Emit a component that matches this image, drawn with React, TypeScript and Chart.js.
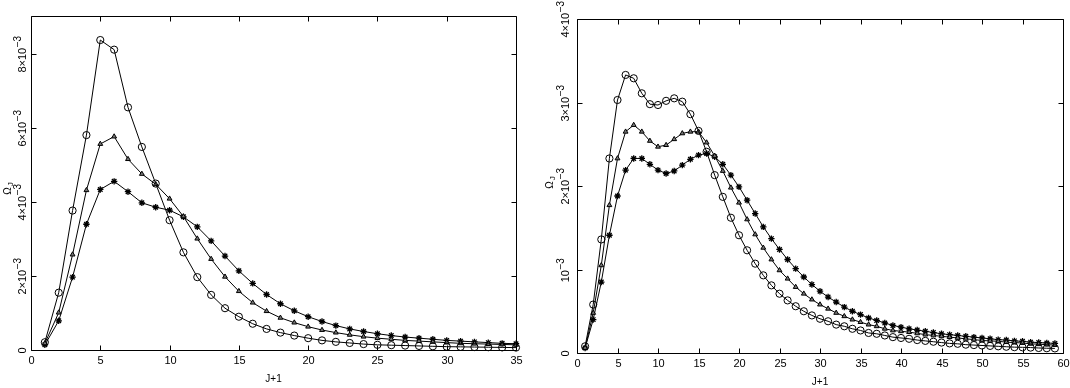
import React, { useEffect, useRef } from "react";
import { Chart, registerables } from "chart.js";

Chart.register(...registerables);

// ---------- LEFT PANEL DATA (Omega_J in units of 1e-3) ----------
const jLeft = [1,2,3,4,5,6,7,8,9,10,11,12,13,14,15,16,17,18,19,20,21,22,23,24,25,26,27,28,29,30,31,32,33,34,35];
const leftCircle = [0.21,1.55,3.77,5.81,8.38,8.12,6.56,5.49,4.50,3.51,2.64,1.97,1.49,1.13,0.90,0.71,0.57,0.47,0.39,0.32,0.26,0.22,0.19,0.16,0.14,0.13,0.12,0.11,0.10,0.09,0.085,0.08,0.075,0.07,0.065];
const leftTriangle = [0.18,1.01,2.58,4.32,5.57,5.77,5.16,4.76,4.48,4.09,3.61,3.01,2.46,1.98,1.59,1.28,1.05,0.87,0.74,0.63,0.54,0.47,0.41,0.36,0.32,0.29,0.26,0.24,0.22,0.20,0.18,0.17,0.16,0.15,0.14];
const leftStar = [0.14,0.79,1.97,3.40,4.34,4.56,4.28,3.98,3.86,3.78,3.60,3.33,2.95,2.54,2.14,1.80,1.50,1.25,1.06,0.90,0.77,0.66,0.57,0.50,0.44,0.39,0.35,0.32,0.29,0.26,0.24,0.22,0.20,0.18,0.17];
const leftXTicks = [0,5,10,15,20,25,30,35];
const leftYTicks = [0,2,4,6,8];
const leftYTickLabels = ["0","2×10^−3","4×10^−3","6×10^−3","8×10^−3"];

// ---------- RIGHT PANEL DATA (Omega_J in units of 1e-3) ----------
const jRight = [1,2,3,4,5,6,7,8,9,10,11,12,13,14,15,16,17,18,19,20,21,22,23,24,25,26,27,28,29,30,31,32,33,34,35,36,37,38,39,40,41,42,43,44,45,46,47,48,49,50,51,52,53,54,55,56,57,58,59];
const rightCircle = [0.08,0.58,1.36,2.33,3.03,3.33,3.29,3.11,2.98,2.97,3.02,3.05,3.01,2.86,2.66,2.41,2.13,1.87,1.62,1.41,1.23,1.07,0.93,0.81,0.71,0.63,0.56,0.50,0.45,0.41,0.38,0.34,0.32,0.29,0.27,0.24,0.23,0.21,0.19,0.18,0.17,0.155,0.145,0.135,0.125,0.115,0.11,0.10,0.095,0.09,0.085,0.08,0.075,0.07,0.068,0.065,0.06,0.057,0.055];
const rightTriangle = [0.06,0.48,1.05,1.77,2.33,2.65,2.73,2.65,2.54,2.47,2.49,2.56,2.63,2.65,2.65,2.52,2.36,2.18,1.98,1.80,1.60,1.42,1.26,1.12,0.99,0.89,0.79,0.71,0.64,0.58,0.53,0.48,0.44,0.40,0.37,0.34,0.32,0.29,0.27,0.26,0.25,0.235,0.22,0.21,0.20,0.19,0.18,0.17,0.16,0.15,0.145,0.14,0.13,0.125,0.12,0.11,0.105,0.10,0.095];
const rightStar = [0.06,0.40,0.85,1.41,1.88,2.19,2.33,2.33,2.26,2.19,2.15,2.18,2.25,2.32,2.37,2.39,2.35,2.26,2.13,1.99,1.83,1.67,1.51,1.37,1.24,1.12,1.01,0.91,0.82,0.74,0.67,0.61,0.55,0.50,0.46,0.42,0.39,0.36,0.33,0.31,0.29,0.275,0.26,0.245,0.23,0.22,0.21,0.20,0.19,0.18,0.17,0.16,0.155,0.145,0.14,0.13,0.125,0.12,0.115];
const rightXTicks = [0,5,10,15,20,25,30,35,40,45,50,55,60];
const rightYTicks = [0,1,2,3,4];
const rightYTickLabels = ["0","10^−3","2×10^−3","3×10^−3","4×10^−3"];

const xTitle = "J+1";
const yTitleMain = "Ω";
const yTitleSub = "J";

const FONT = "'Liberation Sans', Arial, Helvetica, sans-serif";

type PanelSpec = {
  left: number;
  width: number;
  height: number;
  padding: { left: number; right: number; top: number; bottom: number };
  xMax: number;
  yMax: number;
  j: number[];
  circle: number[];
  triangle: number[];
  star: number[];
  xTicks: number[];
  yTicks: number[];
  yTickLabels: string[];
  yLabelX: number;
  yTitleX: number;
  yTitleY: number;
};

const framePlugin = (spec: PanelSpec) => ({
  id: "frame",
  afterDraw(chart: any) {
    const { ctx, chartArea: a, scales } = chart;
    const xs = scales.x;
    const ys = scales.y;
    const L = Math.round(a.left) + 0.5;
    const R = Math.round(a.right) + 0.5;
    const T = Math.round(a.top) + 0.5;
    const B = Math.round(a.bottom) + 0.5;
    ctx.save();
    ctx.strokeStyle = "#000";
    ctx.lineWidth = 1;
    ctx.beginPath();
    ctx.rect(L, T, R - L, B - T);
    ctx.stroke();
    const tl = 5;
    ctx.fillStyle = "#000";
    ctx.font = `11px ${FONT}`;
    ctx.textAlign = "center";
    ctx.textBaseline = "middle";
    spec.xTicks.forEach((v) => {
      const px = Math.round(xs.getPixelForValue(v)) + 0.5;
      ctx.beginPath();
      ctx.moveTo(px, B);
      ctx.lineTo(px, B - tl);
      ctx.moveTo(px, T);
      ctx.lineTo(px, T + tl);
      ctx.stroke();
      ctx.fillText(String(v), px, B + 10);
    });
    spec.yTicks.forEach((v, i) => {
      const py = Math.round(ys.getPixelForValue(v)) + 0.5;
      ctx.beginPath();
      ctx.moveTo(L, py);
      ctx.lineTo(L + tl, py);
      ctx.moveTo(R, py);
      ctx.lineTo(R - tl, py);
      ctx.stroke();
      const parts = spec.yTickLabels[i].split("^");
      const base = parts[0];
      const sup = parts[1] || "";
      ctx.save();
      ctx.translate(a.left - spec.yLabelX, py);
      ctx.rotate(-Math.PI / 2);
      ctx.font = `11px ${FONT}`;
      const wb = ctx.measureText(base).width;
      ctx.font = `10px ${FONT}`;
      const ws = sup ? ctx.measureText(sup).width : 0;
      const start = -(wb + ws) / 2;
      ctx.textAlign = "left";
      ctx.textBaseline = "middle";
      ctx.font = `11px ${FONT}`;
      ctx.fillText(base, start, 0);
      if (sup) {
        ctx.font = `10px ${FONT}`;
        ctx.fillText(sup, start + wb + 0.5, -5);
      }
      ctx.restore();
    });
    ctx.font = `10px ${FONT}`;
    ctx.textAlign = "center";
    ctx.textBaseline = "middle";
    ctx.fillText(xTitle, (a.left + a.right) / 2, B + 29);
    ctx.save();
    ctx.translate(spec.yTitleX, spec.yTitleY);
    ctx.rotate(-Math.PI / 2);
    ctx.font = `10px ${FONT}`;
    const wo = ctx.measureText(yTitleMain).width;
    ctx.textAlign = "left";
    ctx.textBaseline = "middle";
    ctx.fillText(yTitleMain, -wo / 2 - 2, 0);
    ctx.font = `8px ${FONT}`;
    ctx.fillText(yTitleSub, wo / 2 - 1, 3);
    ctx.restore();
    ctx.restore();
  },
});

const mkData = (j: number[], vals: number[]) => j.map((x, i) => ({ x, y: vals[i] }));

function Panel({ spec }: { spec: PanelSpec }) {
  const ref = useRef<HTMLCanvasElement | null>(null);
  useEffect(() => {
    if (!ref.current) return;
    const common = {
      borderColor: "#000",
      borderWidth: 1,
      pointBorderColor: "#000",
      pointBorderWidth: 1,
      tension: 0,
      clip: false as any,
      showLine: true,
    };
    const chart = new Chart(ref.current, {
      type: "line",
      data: {
        datasets: [
          {
            ...common,
            label: "circle",
            data: mkData(spec.j, spec.circle),
            pointStyle: "circle",
            pointRadius: 3.6,
            pointBackgroundColor: "rgba(0,0,0,0)",
          },
          {
            ...common,
            label: "triangle",
            data: mkData(spec.j, spec.triangle),
            pointStyle: "triangle",
            pointRadius: 2.8,
            pointBackgroundColor: "#777",
          },
          {
            ...common,
            label: "star",
            data: mkData(spec.j, spec.star),
            pointStyle: "star",
            pointRadius: 3.2,
            pointBorderWidth: 1.3,
            pointBackgroundColor: "#000",
          },
        ],
      },
      options: {
        responsive: false,
        animation: false,
        events: [],
        layout: { padding: spec.padding },
        plugins: { legend: { display: false }, tooltip: { enabled: false } },
        scales: {
          x: { type: "linear", min: 0, max: spec.xMax, display: false },
          y: { type: "linear", min: 0, max: spec.yMax, display: false },
        },
      },
      plugins: [framePlugin(spec)],
    } as any);
    return () => chart.destroy();
  }, [spec]);
  return (
    <canvas
      ref={ref}
      width={spec.width}
      height={spec.height}
      style={{ position: "absolute", left: spec.left, top: 0, width: spec.width, height: spec.height }}
    />
  );
}

const leftSpec: PanelSpec = {
  left: 0,
  width: 530,
  height: 388,
  padding: { left: 31, right: 14, top: 16, bottom: 38 },
  xMax: 35,
  yMax: 9.03,
  j: jLeft,
  circle: leftCircle,
  triangle: leftTriangle,
  star: leftStar,
  xTicks: leftXTicks,
  yTicks: leftYTicks,
  yTickLabels: leftYTickLabels,
  yLabelX: 8,
  yTitleX: 8,
  yTitleY: 189,
};

const rightSpec: PanelSpec = {
  left: 530,
  width: 540,
  height: 388,
  padding: { left: 47, right: 7, top: 19, bottom: 35 },
  xMax: 60,
  yMax: 4,
  j: jRight,
  circle: rightCircle,
  triangle: rightTriangle,
  star: rightStar,
  xTicks: rightXTicks,
  yTicks: rightYTicks,
  yTickLabels: rightYTickLabels,
  yLabelX: 11,
  yTitleX: 20,
  yTitleY: 183,
};

export default function App() {
  return (
    <div style={{ position: "fixed", left: 0, top: 0, width: 1070, height: 388, background: "#fff", overflow: "hidden" }}>
      <Panel spec={leftSpec} />
      <Panel spec={rightSpec} />
    </div>
  );
}
